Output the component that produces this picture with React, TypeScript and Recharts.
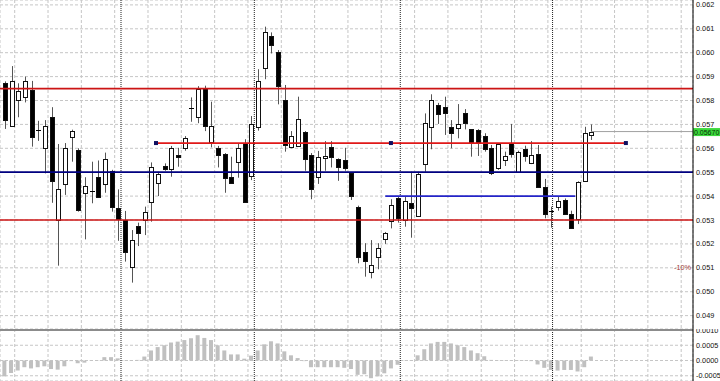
import {
    Bar,
    BarChart,
    CartesianGrid,
    ComposedChart,
    ReferenceDot,
    ReferenceLine,
    XAxis,
    YAxis,
} from "recharts";

const opens = [
    0.05874, 0.05692, 0.05802, 0.05813, 0.05844, 0.05677, 0.05600, 0.05730, 0.05300, 0.05449,
    0.05646, 0.05593, 0.05412, 0.05421, 0.05478, 0.05449, 0.05505, 0.05351, 0.05300, 0.05105,
    0.05275, 0.05300, 0.05377, 0.05456, 0.05526, 0.05512, 0.05572, 0.05600, 0.05767, 0.05730,
    0.05851, 0.05625, 0.05600, 0.05575, 0.05481, 0.05544, 0.05621, 0.05484, 0.05688, 0.05935,
    0.06070, 0.06002, 0.05802, 0.05604, 0.05611, 0.05669, 0.05572, 0.05481, 0.05560, 0.05604,
    0.05555, 0.05551, 0.05498, 0.05353, 0.05167, 0.05084, 0.05146, 0.05219, 0.05296, 0.05393,
    0.05300, 0.05370, 0.05318, 0.05533, 0.05690, 0.05781, 0.05772, 0.05688, 0.05686, 0.05749,
    0.05679, 0.05677, 0.05651, 0.05602, 0.05516, 0.05550, 0.05621, 0.05500, 0.05597, 0.05540,
    0.05576, 0.05437, 0.05338, 0.05353, 0.05384, 0.05324, 0.05303, 0.05464, 0.05656,
];

const highs = [
    0.05880, 0.05944, 0.05872, 0.05900, 0.05882, 0.05715, 0.05718, 0.05772, 0.05618, 0.05622,
    0.05678, 0.05600, 0.05479, 0.05544, 0.05549, 0.05582, 0.05510, 0.05428, 0.05338, 0.05258,
    0.05289, 0.05356, 0.05541, 0.05502, 0.05537, 0.05610, 0.05602, 0.05651, 0.05813, 0.05860,
    0.05862, 0.05795, 0.05610, 0.05580, 0.05565, 0.05621, 0.05638, 0.05735, 0.05931, 0.06109,
    0.06085, 0.06011, 0.05865, 0.05672, 0.05816, 0.05672, 0.05580, 0.05589, 0.05630, 0.05630,
    0.05558, 0.05602, 0.05500, 0.05360, 0.05203, 0.05216, 0.05203, 0.05250, 0.05387, 0.05400,
    0.05400, 0.05502, 0.05502, 0.05746, 0.05826, 0.05790, 0.05816, 0.05718, 0.05785, 0.05764,
    0.05680, 0.05680, 0.05663, 0.05614, 0.05620, 0.05586, 0.05702, 0.05590, 0.05611, 0.05630,
    0.05614, 0.05472, 0.05356, 0.05400, 0.05390, 0.05339, 0.05462, 0.05690, 0.05700,
];

const lows = [
    0.05681, 0.05690, 0.05730, 0.05792, 0.05607, 0.05631, 0.05495, 0.05372, 0.05109, 0.05405,
    0.05544, 0.05335, 0.05219, 0.05370, 0.05395, 0.05414, 0.05335, 0.05213, 0.05126, 0.05038,
    0.05191, 0.05237, 0.05293, 0.05400, 0.05506, 0.05481, 0.05523, 0.05590, 0.05711, 0.05705,
    0.05672, 0.05604, 0.05520, 0.05414, 0.05456, 0.05477, 0.05374, 0.05467, 0.05674, 0.05889,
    0.05997, 0.05784, 0.05586, 0.05600, 0.05611, 0.05506, 0.05387, 0.05451, 0.05506, 0.05520,
    0.05464, 0.05506, 0.05384, 0.05119, 0.05063, 0.05056, 0.05094, 0.05200, 0.05265, 0.05289,
    0.05272, 0.05226, 0.05318, 0.05502, 0.05596, 0.05702, 0.05656, 0.05600, 0.05642, 0.05679,
    0.05565, 0.05568, 0.05586, 0.05488, 0.05510, 0.05526, 0.05561, 0.05498, 0.05544, 0.05534,
    0.05437, 0.05307, 0.05268, 0.05339, 0.05324, 0.05265, 0.05283, 0.05460, 0.05635,
];

const closes = [
    0.05718, 0.05880, 0.05841, 0.05883, 0.05649, 0.05677, 0.05693, 0.05464, 0.05428, 0.05600,
    0.05672, 0.05342, 0.05442, 0.05421, 0.05397, 0.05555, 0.05356, 0.05304, 0.05165, 0.05216,
    0.05247, 0.05332, 0.05523, 0.05492, 0.05512, 0.05600, 0.05565, 0.05642, 0.05767, 0.05847,
    0.05693, 0.05693, 0.05572, 0.05474, 0.05456, 0.05600, 0.05374, 0.05700, 0.05882, 0.06085,
    0.06032, 0.05862, 0.05614, 0.05651, 0.05721, 0.05554, 0.05428, 0.05562, 0.05567, 0.05562,
    0.05523, 0.05519, 0.05400, 0.05144, 0.05128, 0.05112, 0.05182, 0.05247, 0.05363, 0.05307,
    0.05380, 0.05349, 0.05492, 0.05705, 0.05802, 0.05742, 0.05749, 0.05665, 0.05702, 0.05707,
    0.05623, 0.05623, 0.05596, 0.05498, 0.05617, 0.05568, 0.05576, 0.05586, 0.05568, 0.05572,
    0.05437, 0.05324, 0.05338, 0.05380, 0.05324, 0.05265, 0.05460, 0.05665, 0.05670,
];

// oscillator histogram in the sub window
const oscValues = [
    -0.00052, -0.00041, -0.00033, -0.00022, -0.00026, -0.00022, -0.00019, -0.00028, -0.00030, -0.00019,
    -0.00002, -0.00009, -0.00007, -0.00001, 0.00001, 0.00011, 0.00011, 0.00007, 0.00001, 0.00001,
    0.00002, 0.00013, 0.00033, 0.00044, 0.00050, 0.00059, 0.00062, 0.00067, 0.00073, 0.00083,
    0.00074, 0.00067, 0.00050, 0.00033, 0.00020, 0.00020, 0.00006, 0.00016, 0.00033, 0.00053,
    0.00063, 0.00056, 0.00030, 0.00017, 0.00008, -0.00002, -0.00022, -0.00022, -0.00022, -0.00022,
    -0.00022, -0.00024, -0.00028, -0.00047, -0.00045, -0.00058, -0.00052, -0.00042, -0.00026, -0.00014,
    0.00001, 0.00001, 0.00017, 0.00037, 0.00056, 0.00061, 0.00061, 0.00056, 0.00050, 0.00044,
    0.00033, 0.00024, 0.00014, 0.00002, 0.00001, 0.00001, 0.00001, 0.00001, 0.00001, -0.00002,
    -0.00013, -0.00024, -0.00031, -0.00033, -0.00031, -0.00031, -0.00036, -0.00022, 0.00013,
];

const priceTicks = [
    0.049, 0.05, 0.051, 0.052, 0.053, 0.054, 0.055, 0.056, 0.057, 0.058, 0.059, 0.06, 0.061, 0.062,
];
const oscTicks = [0.001, 0.0005, 0, -0.0005];

// bar slots where the vertical grid falls, and period separators
const gridSlots = [
    1.5, 6.5, 11.5, 16.5, 21.5, 26.5, 31.5, 36.5, 41.5, 46.5, 51.5,
    56.5, 61.5, 66.5, 71.5, 76.5, 81.5, 86.5, 91.5, 96.5, 101.5,
];
const periodStarts = [17.45, 37.45, 59.35, 82.2];

// drawn objects
const redLevels = [0.0585, 0.053];
const blueLevel = 0.055;
const trendLevel = 0.05622;
const trendAnchors = [22.7, 57.95, 93.2];
const blueSegLevel = 0.054;
const blueSegAnchors = [57.1, 85.6];
const pctLevel = 0.051;
const lastPrice = 0.0567;

const xDomain: [number, number] = [-0.705, 103.27];
const priceDomain: [number, number] = [0.04844, 0.062205];
const oscDomain: [number, number] = [-0.000672, 0.001033];

const candles = opens.map((o, i) => ({
    i,
    open: o,
    high: highs[i],
    low: lows[i],
    close: closes[i],
}));

const osc = oscValues.map((v, i) => ({ i, v }));

const FONT = "'Liberation Sans', Arial, sans-serif";

function Candle(props: any) {
    const { x, y, width, height, payload } = props;
    const { open, close, high, low } = payload;
    const top = Math.min(y, y + height);
    const h = Math.abs(height);
    const ratio = h / (high - low);
    const cx = Math.round(x + width / 2) + 0.5;
    const yOf = (v: number) => top + (high - v) * ratio;
    const bTop = Math.round(yOf(Math.max(open, close))) + 0.5;
    const bBot = Math.round(yOf(Math.min(open, close))) + 0.5;
    const up = close >= open;

    return (
        <g>
            <line x1={cx} x2={cx} y1={top} y2={top + h} stroke="#555" strokeWidth={1} />
            {bBot - bTop < 1 ? (
                <line x1={cx - 2.5} x2={cx + 2.5} y1={bTop} y2={bTop} stroke="#000" />
            ) : (
                <rect
                    x={cx - 2}
                    y={bTop}
                    width={4}
                    height={bBot - bTop}
                    fill={up ? "#fff" : "#000"}
                    stroke="#111"
                    strokeWidth={1}
                />
            )}
        </g>
    );
}

function PriceTick(props: any) {
    const { x, y, payload } = props;
    return (
        <text x={x} y={y + 2.5} fontSize={7.3} fontFamily={FONT} fill="#111" textAnchor="start">
            {payload.value.toFixed(3)}
        </text>
    );
}

function OscTick(props: any) {
    const { x, y, payload } = props;
    return (
        <text x={x} y={y + 2.5} fontSize={7.3} fontFamily={FONT} fill="#111" textAnchor="start">
            {payload.value.toFixed(4)}
        </text>
    );
}

function PriceBox(props: any) {
    const { viewBox } = props;
    const x = viewBox.x + viewBox.width;
    const y = viewBox.y;
    return (
        <g>
            <rect x={x} y={y - 3.5} width={27} height={8} fill="#3cd83c" />
            <text x={x + 1} y={y + 3} fontSize={7} fontFamily={FONT} fill="#063006">
                {lastPrice.toFixed(5)}
            </text>
        </g>
    );
}

function Handle(props: any) {
    const { cx, cy } = props;
    return <rect x={cx - 2} y={cy - 2} width={4} height={4} fill="#101060" />;
}

export default function App() {
    return (
        <div style={{ position: "absolute", left: 0, top: 0, width: 720, height: 381, background: "#fff" }}>
            <ComposedChart
                width={720}
                height={329}
                data={candles}
                margin={{ top: 0, right: 0, bottom: 0, left: 0 }}
            >
                <CartesianGrid stroke="#c6c6c6" strokeDasharray="3 2" />
                <XAxis
                    type="number"
                    dataKey="i"
                    domain={xDomain}
                    ticks={gridSlots}
                    interval={0}
                    allowDataOverflow
                    hide
                />
                <YAxis
                    orientation="right"
                    type="number"
                    domain={priceDomain}
                    ticks={priceTicks}
                    interval={0}
                    allowDataOverflow
                    width={27}
                    tickSize={0}
                    tickMargin={3}
                    tickLine={false}
                    axisLine={{ stroke: "#000" }}
                    tick={<PriceTick />}
                />

                {periodStarts.map((p) => (
                    <ReferenceLine key={p} x={p} stroke="#222" strokeDasharray="1 1" />
                ))}

                {redLevels.map((v) => (
                    <ReferenceLine key={v} y={v} stroke="#cc1414" strokeWidth={1.7} />
                ))}
                <ReferenceLine y={blueLevel} stroke="#000080" strokeWidth={1.7} />

                <ReferenceLine
                    segment={[
                        { x: trendAnchors[0], y: trendLevel },
                        { x: trendAnchors[2], y: trendLevel },
                    ]}
                    stroke="#e01818"
                    strokeWidth={1.7}
                />
                <ReferenceLine
                    segment={[
                        { x: blueSegAnchors[0], y: blueSegLevel },
                        { x: blueSegAnchors[1], y: blueSegLevel },
                    ]}
                    stroke="#2424c8"
                    strokeWidth={1.7}
                />

                <ReferenceLine
                    y={pctLevel}
                    stroke="none"
                    label={{
                        value: "-10%",
                        position: "insideRight",
                        offset: 2,
                        fill: "#a03a3a",
                        fontSize: 7.3,
                        fontFamily: FONT,
                    }}
                />

                <Bar
                    dataKey={(d: any) => [d.low, d.high]}
                    barSize={5}
                    shape={<Candle />}
                    isAnimationActive={false}
                />

                <ReferenceLine
                    segment={[
                        { x: candles.length - 1, y: lastPrice },
                        { x: xDomain[1], y: lastPrice },
                    ]}
                    stroke="#a0a0a0"
                    label={<PriceBox />}
                />

                {trendAnchors.map((a) => (
                    <ReferenceDot key={a} x={a} y={trendLevel} r={2} shape={<Handle />} />
                ))}
            </ComposedChart>

            <BarChart
                width={720}
                height={52}
                data={osc}
                margin={{ top: 0, right: 0, bottom: 0, left: 0 }}
                barGap={0}
            >
                <CartesianGrid stroke="#c6c6c6" strokeDasharray="3 2" />
                <XAxis
                    type="number"
                    dataKey="i"
                    domain={xDomain}
                    ticks={gridSlots}
                    interval={0}
                    allowDataOverflow
                    hide
                />
                <YAxis
                    orientation="right"
                    type="number"
                    domain={oscDomain}
                    ticks={oscTicks}
                    interval={0}
                    allowDataOverflow
                    width={27}
                    tickSize={0}
                    tickMargin={3}
                    tickLine={false}
                    axisLine={{ stroke: "#000" }}
                    tick={<OscTick />}
                />
                {periodStarts.map((p) => (
                    <ReferenceLine key={p} x={p} stroke="#222" strokeDasharray="1 1" />
                ))}
                <Bar dataKey="v" fill="#c0c0c0" barSize={4} isAnimationActive={false} />
                <ReferenceLine y={oscTicks[0]} stroke="#8c8c8c" strokeWidth={2} />
            </BarChart>
        </div>
    );
}
